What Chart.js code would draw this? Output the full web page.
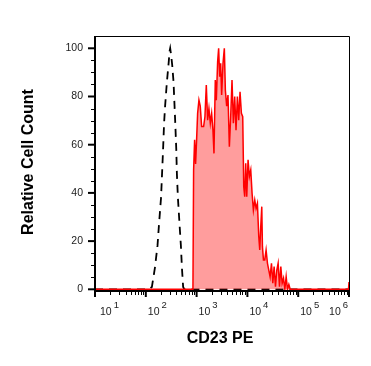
<!DOCTYPE html>
<html>
<head>
<meta charset="utf-8">
<script src="https://cdn.jsdelivr.net/npm/chart.js@4.4.0/dist/chart.umd.min.js"></script>
<style>
  html, body { margin: 0; padding: 0; background: #fff; }
  #wrap { width: 371px; height: 366px; }
</style>
</head>
<body>
<div id="wrap"><canvas id="histChart" width="371" height="366"></canvas></div>
<script>
// histogram data, x given as log10 of PE intensity

// unstained / isotype control (dashed)
const controlLog = [1.0, 2.06, 2.12, 2.18, 2.23, 2.26, 2.30, 2.32, 2.34, 2.36, 2.38, 2.415, 2.45, 2.47, 2.48, 2.50, 2.52, 2.546, 2.566, 2.58, 2.60, 2.612, 2.632, 2.664, 2.691, 2.711, 2.735, 2.76, 6.0];
const controlCount = [0, 0, 1, 9, 18, 27, 38, 48, 58, 69, 76, 86, 94, 99, 100, 97, 93, 86, 76, 69, 58, 48, 38, 27, 18, 9, 1, 0, 0];

// CD23 PE stained sample (red fill)
const stainedLog = [1.0, 2.928, 2.941, 2.961, 2.98, 3.0, 3.02, 3.046, 3.072, 3.099, 3.138, 3.164, 3.191, 3.217, 3.243, 3.27, 3.296, 3.322, 3.342, 3.368, 3.388, 3.414, 3.434, 3.454, 3.474, 3.493, 3.52, 3.546, 3.566, 3.592, 3.618, 3.645, 3.671, 3.697, 3.724, 3.75, 3.776, 3.803, 3.829, 3.855, 3.882, 3.908, 3.928, 3.947, 3.967, 3.987, 4.013, 4.039, 4.066, 4.092, 4.118, 4.145, 4.171, 4.197, 4.224, 4.243, 4.263, 4.283, 4.296, 4.316, 4.342, 4.368, 4.395, 4.421, 4.447, 4.474, 4.5, 4.526, 4.553, 4.579, 4.605, 4.632, 4.658, 4.684, 4.711, 4.737, 4.763, 4.789, 4.816, 4.842, 5.99, 6.0];
const stainedCount = [0, 0, 49.5, 62, 52, 62, 73, 78.5, 76, 67.5, 67.5, 71.6, 84.8, 70.2, 75, 68.9, 73, 66, 56.4, 86.8, 78.5, 94.4, 100, 88.2, 93.8, 80.6, 93.8, 100, 82.7, 76, 80.6, 59.2, 71.6, 86.8, 68.9, 80, 66, 80, 70.2, 82, 73, 71.6, 42.6, 38.4, 52.3, 38.4, 53.7, 46.8, 49.5, 39.8, 32.9, 37, 33.6, 35.7, 21.8, 16.3, 26, 34.3, 17.7, 12.2, 12.2, 16.3, 10.8, 8, 5.2, 10.8, 2.5, 9.4, 1.1, 8, 10.8, 1.1, 9.4, 2.5, 4.6, 0, 5.2, 0, 2, 0, 0, 3];

const xDecades = [1, 2, 3, 4, 5, 6];
const yTicks = [0, 20, 40, 60, 80, 100];
const xTitle = 'CD23 PE';
const yTitle = 'Relative Cell Count';

function toPoints(logs, counts) {
    return logs.map((l, i) => ({ x: Math.pow(10, l), y: counts[i] }));
}

// draws the frame, ticks, tick labels and axis titles
const axesPlugin = {
    id: 'axesPlugin',
    afterDraw(chart) {
        const ctx = chart.ctx;
        const a = chart.chartArea;
        const xs = chart.scales.x;
        const ys = chart.scales.y;
        ctx.save();
        ctx.strokeStyle = '#000';

        // thin top and right border
        ctx.lineWidth = 1;
        ctx.beginPath();
        ctx.moveTo(a.left, a.top + 0.5);
        ctx.lineTo(a.right + 0.5, a.top + 0.5);
        ctx.lineTo(a.right + 0.5, a.bottom);
        ctx.stroke();

        // heavier left and bottom axis lines
        ctx.lineWidth = 2;
        ctx.beginPath();
        ctx.moveTo(a.left, a.top);
        ctx.lineTo(a.left, a.bottom);
        ctx.lineTo(a.right + 1, a.bottom);
        ctx.stroke();

        // x ticks
        for (let d = 1; d <= 6; d++) {
            const px = xs.getPixelForValue(Math.pow(10, d));
            ctx.lineWidth = 2;
            ctx.beginPath();
            ctx.moveTo(px, a.bottom);
            ctx.lineTo(px, a.bottom + 6);
            ctx.stroke();
            if (d < 6) {
                ctx.lineWidth = 1;
                for (let m = 2; m <= 9; m++) {
                    const mx = Math.round(xs.getPixelForValue(m * Math.pow(10, d))) + 0.5;
                    ctx.beginPath();
                    ctx.moveTo(mx, a.bottom);
                    ctx.lineTo(mx, a.bottom + 4);
                    ctx.stroke();
                }
            }
        }

        // y ticks
        for (let v = 0; v <= 100; v += 5) {
            const py = ys.getPixelForValue(v);
            const major = v % 20 === 0;
            ctx.lineWidth = major ? 2 : 1;
            ctx.beginPath();
            ctx.moveTo(a.left, major ? py : Math.round(py) + 0.5);
            ctx.lineTo(a.left - (major ? 7 : 4), major ? py : Math.round(py) + 0.5);
            ctx.stroke();
        }

        // y labels
        ctx.fillStyle = '#222';
        ctx.font = '10.5px "Liberation Sans", Arial, sans-serif';
        ctx.textAlign = 'right';
        ctx.textBaseline = 'middle';
        yTicks.forEach(v => {
            ctx.fillText(String(v), a.left - 12, ys.getPixelForValue(v));
        });

        // x labels 10^n
        ctx.textBaseline = 'alphabetic';
        xDecades.forEach(d => {
            const px = xs.getPixelForValue(Math.pow(10, d));
            ctx.font = '10.5px "Liberation Sans", Arial, sans-serif';
            const w = ctx.measureText('10').width;
            ctx.font = '9.5px "Liberation Sans", Arial, sans-serif';
            const sw = ctx.measureText(String(d)).width;
            let left = px + (d === 1 ? 5 : 2);
            if (d === 6) left = px - w - sw - 3;
            ctx.textAlign = 'left';
            ctx.font = '10.5px "Liberation Sans", Arial, sans-serif';
            ctx.fillText('10', left, a.bottom + 24);
            ctx.font = '9.5px "Liberation Sans", Arial, sans-serif';
            ctx.fillText(String(d), left + w + 2, a.bottom + 17);
        });

        // axis titles
        ctx.fillStyle = '#000';
        ctx.font = 'bold 16px "Liberation Sans", Arial, sans-serif';
        ctx.textAlign = 'center';
        ctx.textBaseline = 'middle';
        ctx.fillText(xTitle, 220, 339);
        ctx.translate(29, 162);
        ctx.rotate(-Math.PI / 2);
        ctx.fillText(yTitle, 0, 0);
        ctx.restore();
    }
};

new Chart(document.getElementById('histChart').getContext('2d'), {
    type: 'line',
    data: {
        datasets: [{
            label: 'CD23 PE',
            data: toPoints(stainedLog, stainedCount),
            borderColor: '#ff0000',
            borderWidth: 1.5,
            backgroundColor: 'rgba(255, 60, 60, 0.5)',
            fill: 'origin',
            pointRadius: 0,
            tension: 0
        }, {
            label: 'Control',
            data: toPoints(controlLog, controlCount),
            borderColor: '#000',
            borderWidth: 1.8,
            borderDash: [8, 6],
            fill: false,
            pointRadius: 0,
            tension: 0
        }]
    },
    options: {
        responsive: false,
        animation: false,
        layout: { padding: { left: 95, right: 22, top: 36, bottom: 75 } },
        plugins: { legend: { display: false }, tooltip: { enabled: false } },
        scales: {
            x: { type: 'logarithmic', min: 10, max: 1000000, display: false },
            y: { type: 'linear', min: -0.7, max: 105.1, display: false }
        }
    },
    plugins: [axesPlugin]
});
</script>
</body>
</html>
